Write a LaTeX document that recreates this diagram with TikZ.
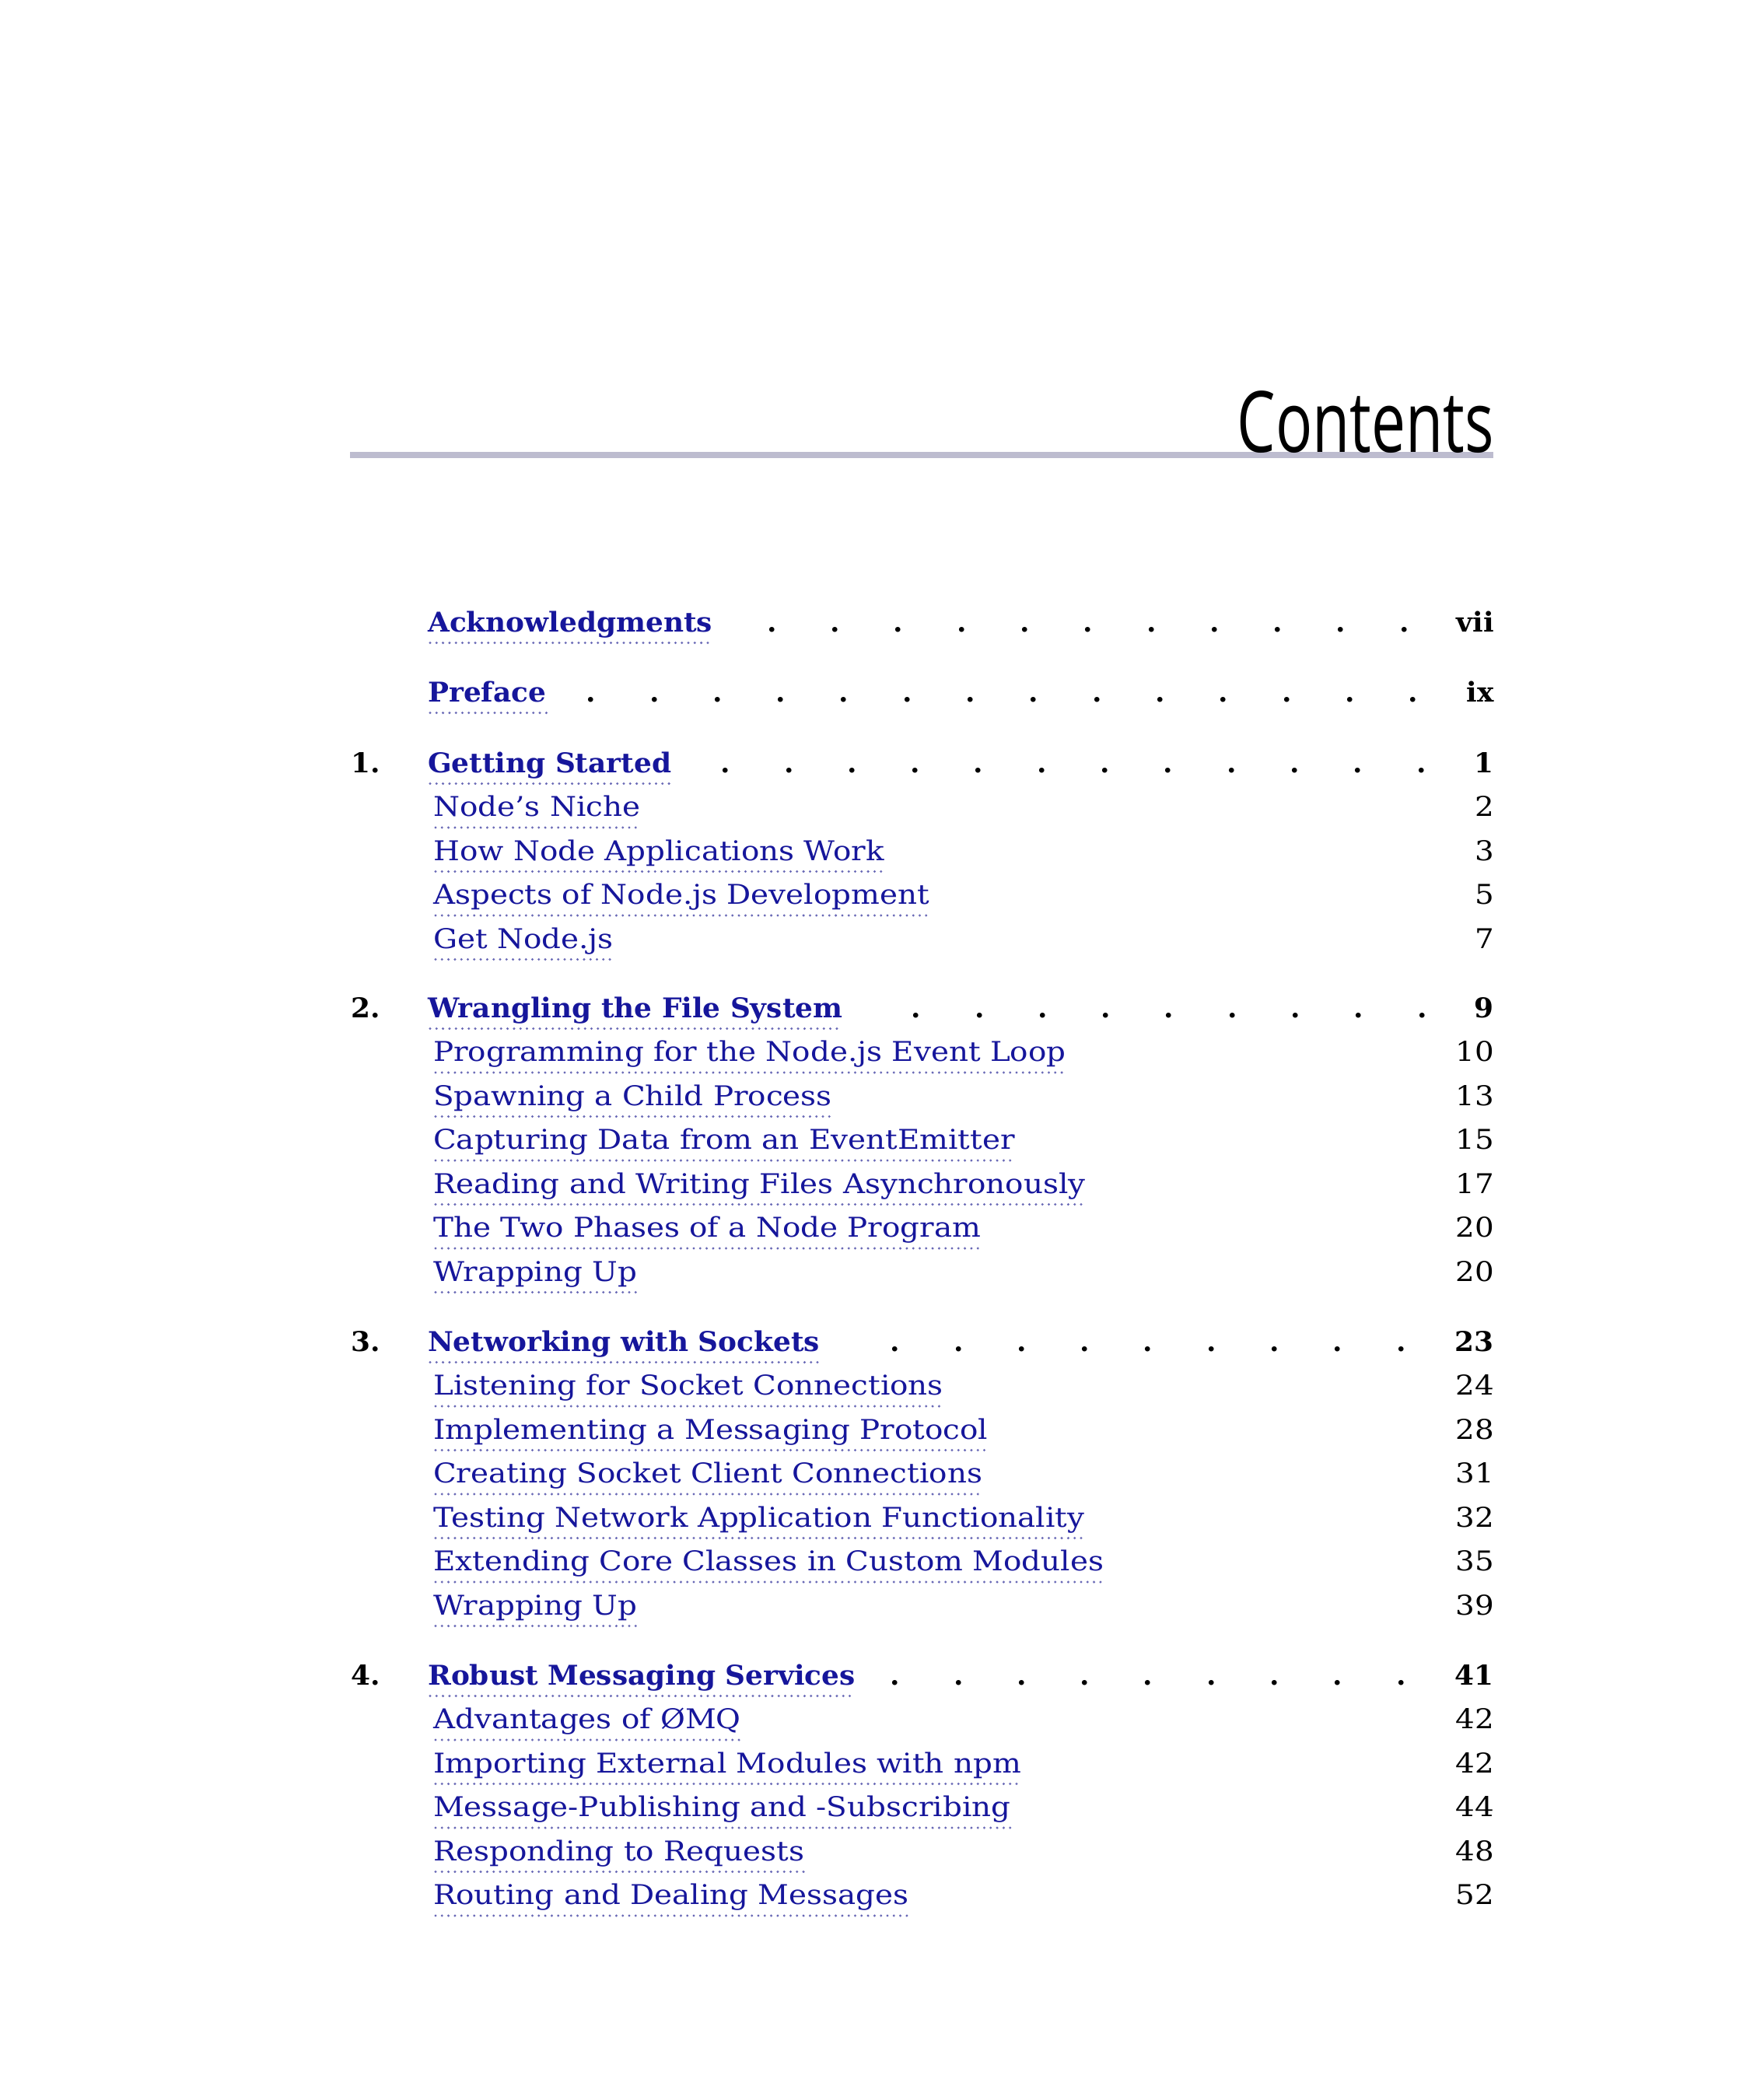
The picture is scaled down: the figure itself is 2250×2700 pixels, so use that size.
\documentclass[tikz,border=0pt]{standalone}
\usepackage{fontspec}
\setmainfont{DejaVu Serif}
\newfontfamily\regfont[FakeStretch=1.11]{DejaVu Serif}
\newfontfamily\chapfont[FakeStretch=1.025]{DejaVu Serif}
\newfontfamily\headfont[FakeStretch=0.72]{Open Sans}
\definecolor{tocblue}{RGB}{22,22,155}
\definecolor{dotblue}{RGB}{105,105,182}
\definecolor{rulegray}{RGB}{189,188,207}
\newcommand\bodysize{\fontsize{35}{40}\selectfont}
\tikzset{
  entry/.style={anchor=base west, inner sep=0pt, text=tocblue, font=\regfont\bodysize},
  chap/.style={anchor=base west, inner sep=0pt, text=tocblue, font=\chapfont\bodysize\bfseries},
  pnum/.style={anchor=base east, inner sep=0pt, text=black, font=\regfont\bodysize},
  cpnum/.style={anchor=base east, inner sep=0pt, text=black, font=\chapfont\bodysize\bfseries},
  chnum/.style={anchor=base west, inner sep=0pt, text=black, font=\chapfont\bodysize\bfseries},
  leaderdot/.style={anchor=base, inner sep=0pt, text=black, font=\chapfont\bodysize\bfseries},
  uline/.style={draw=dotblue, line width=3.3pt, line cap=round, dash pattern=on 0pt off 8.3pt},
}
% sub entry: name, baseline y, text, page
\newcommand\tocsub[4]{%
  \node[entry] (#1) at (557,#2) {#3};
  \node[pnum] (#1p) at (1921,#2) {#4};
  \draw[uline] ([xshift=3pt,yshift=-14.5pt]#1.base west) -- ([yshift=-14.5pt]#1.base east);
}
% chapter entry: name, y, number, text, page, first dot x, dot count
\newcommand\tocchap[7]{%
  \node[chap] (#1) at (550,#2) {#4};
  \node[cpnum] (#1p) at (1921,#2) {#5};
  \draw[uline] ([xshift=3pt,yshift=-14.5pt]#1.base west) -- ([yshift=-14.5pt]#1.base east);
  \foreach \i in {1,...,#7} {\node[leaderdot] (#1d\i) at ({#6+(\i-1)*81.3},#2) {.};}
}
\begin{document}
\begin{tikzpicture}[x=1pt,y=-1pt]
\useasboundingbox (0,0) rectangle (2250,2700);
\fill[white] (0,0) rectangle (2250,2700);
% heading
\fill[rulegray] (450,581) rectangle (1920,589);
\node[anchor=base east, inner sep=0pt] (title) at (1921,581) {\headfont\fontsize{109}{120}\selectfont Contents};
% front matter
\tocchap{ack}{812}{}{Acknowledgments}{vii}{992.5}{11}
\tocchap{pref}{902}{}{Preface}{ix}{760}{14}
% chapter 1
\node[chnum] (n1) at (451,993) {1.};
\tocchap{c1}{993}{1.}{Getting Started}{1}{933}{12}
\tocsub{s11}{1049.5}{Node’s Niche}{2}
\tocsub{s12}{1106}{How Node Applications Work}{3}
\tocsub{s13}{1162.5}{Aspects of Node.js Development}{5}
\tocsub{s14}{1219}{Get Node.js}{7}
% chapter 2
\node[chnum] (n2) at (451,1308) {2.};
\tocchap{c2}{1308}{2.}{Wrangling the File System}{9}{1178}{9}
\tocsub{s21}{1364.5}{Programming for the Node.js Event Loop}{10}
\tocsub{s22}{1421}{Spawning a Child Process}{13}
\tocsub{s23}{1477.5}{Capturing Data from an EventEmitter}{15}
\tocsub{s24}{1534}{Reading and Writing Files Asynchronously}{17}
\tocsub{s25}{1590.5}{The Two Phases of a Node Program}{20}
\tocsub{s26}{1647}{Wrapping Up}{20}
% chapter 3
\node[chnum] (n3) at (451,1737) {3.};
\tocchap{c3}{1737}{3.}{Networking with Sockets}{23}{1151}{9}
\tocsub{s31}{1793.5}{Listening for Socket Connections}{24}
\tocsub{s32}{1850}{Implementing a Messaging Protocol}{28}
\tocsub{s33}{1906.5}{Creating Socket Client Connections}{31}
\tocsub{s34}{1963}{Testing Network Application Functionality}{32}
\tocsub{s35}{2019.5}{Extending Core Classes in Custom Modules}{35}
\tocsub{s36}{2076}{Wrapping Up}{39}
% chapter 4
\node[chnum] (n4) at (451,2166) {4.};
\tocchap{c4}{2166}{4.}{Robust Messaging Services}{41}{1151}{9}
\tocsub{s41}{2222.5}{Advantages of ØMQ}{42}
\tocsub{s42}{2279}{Importing External Modules with npm}{42}
\tocsub{s43}{2335.5}{Message-Publishing and -Subscribing}{44}
\tocsub{s44}{2392}{Responding to Requests}{48}
\tocsub{s45}{2448.5}{Routing and Dealing Messages}{52}
\end{tikzpicture}
\end{document}
